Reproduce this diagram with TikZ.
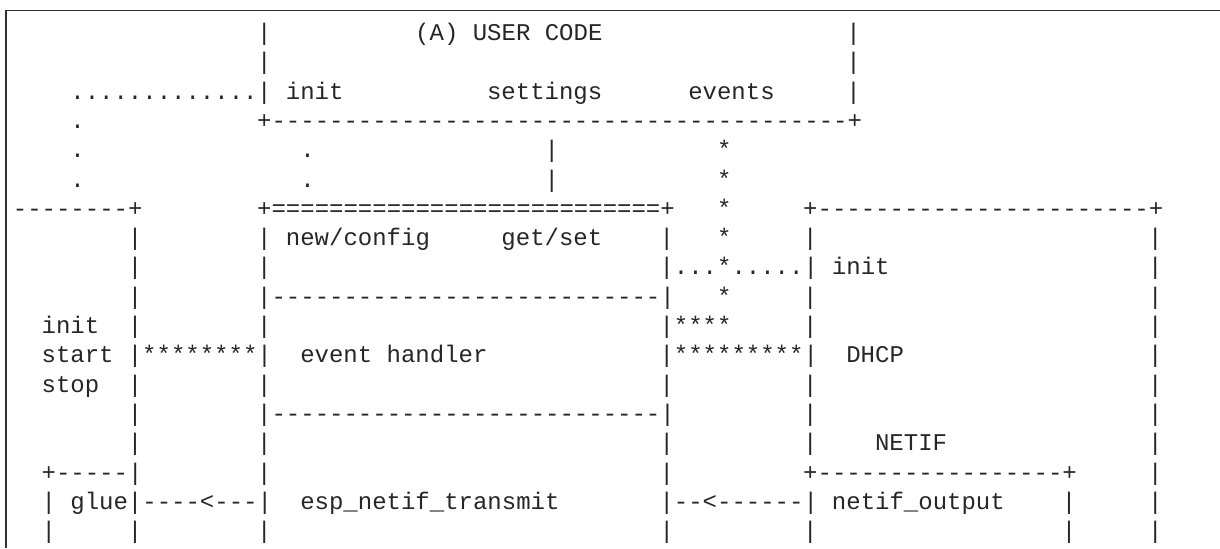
\documentclass[tikz,border=0pt]{standalone}
\usepackage{fontspec}
\setmonofont{Liberation Mono}
\usetikzlibrary{positioning}
\definecolor{inkgray}{HTML}{262626}
\definecolor{framegray}{HTML}{303030}
\newcommand{\colw}{14.37}
\newcommand{\rowh}{29.3}

\begin{document}
\begin{tikzpicture}[x=0.5pt, y=-0.5pt,
    ascii/.style={anchor=base west, inner sep=0pt, outer sep=0pt, text=inkgray,
        font=\ttfamily\fontsize{12pt}{14pt}\selectfont}]
    \useasboundingbox (0,0) rectangle (1220,548);
    % frame of the listing
    \draw[framegray, line width=0.6pt] (6,548) -- (6,10.5) -- (1220,10.5);
    % one list per text row: column/characters
    \foreach \r/\cells in {
        1/{18/|,29/{(A) USER CODE},59/|},
        2/{18/|,59/|},
        3/{5/{.............},18/|,20/init,34/settings,48/events,59/|},
        4/{5/.,18/{+----------------------------------------+}},
        5/{5/.,21/.,38/|,50/*},
        6/{5/.,21/.,38/|,50/*},
        7/{1/{--------+},18/{+===========================+},50/*,56/{+-----------------------+}},
        8/{9/|,18/|,20/{new/config},35/{get/set},46/|,50/*,56/|,80/|},
        9/{9/|,18/|,46/{|...*.....|},58/init,80/|},
        10/{9/|,18/{|---------------------------|},50/*,56/|,80/|},
        11/{3/init,9/|,18/|,46/{|****},56/|,80/|},
        12/{3/start,9/{|********|},21/{event handler},46/{|*********|},59/DHCP,80/|},
        13/{3/stop,9/|,18/|,46/|,56/|,80/|},
        14/{9/|,18/{|---------------------------|},56/|,80/|},
        15/{9/|,18/|,46/|,56/|,61/NETIF,80/|},
        16/{3/{+-----|},18/|,46/|,56/{+-----------------+},80/|},
        17/{3/|,5/{glue|----<---|},21/{esp\_netif\_transmit},46/{|--<------|},58/{netif\_output},74/|,80/|},
        18/{3/|,9/|,18/|,46/|,56/|,74/|,80/|}}
        \foreach \c/\t in \cells
            \node[ascii, name=r\r-\c] at ({-1.5+\c*\colw}, {40.5+(\r-1)*\rowh}) {\t};
\end{tikzpicture}
\end{document}
